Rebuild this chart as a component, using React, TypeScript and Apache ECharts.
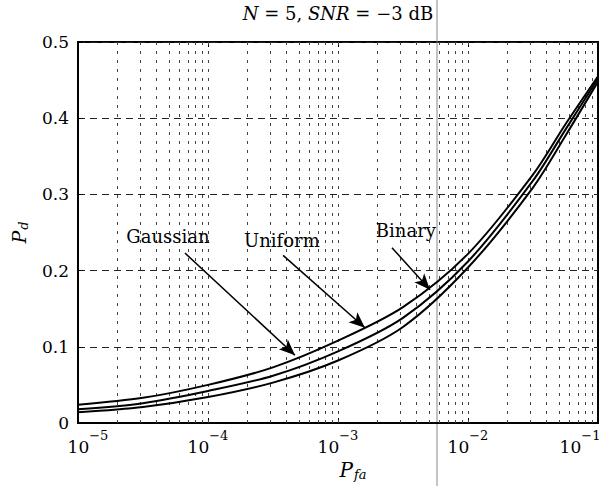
import React, { useEffect, useRef } from 'react';
import * as echarts from 'echarts';

// Data
const pfa = [1e-5, 3.16e-5, 1e-4, 3.16e-4, 1e-3, 3.16e-3, 1e-2, 3.16e-2, 5.62e-2, 1e-1];
const pdTop = [0.024, 0.033, 0.05, 0.073, 0.108, 0.152, 0.222, 0.326, 0.392, 0.455];
const pdMid = [0.018, 0.026, 0.042, 0.062, 0.094, 0.138, 0.212, 0.318, 0.385, 0.452];
const pdBot = [0.014, 0.021, 0.034, 0.053, 0.082, 0.126, 0.204, 0.309, 0.377, 0.448];

const decades = [1e-5, 1e-4, 1e-3, 1e-2, 1e-1];
const minorMultipliers = [2, 3, 4, 5, 6, 7, 8, 9];

const yTicks = [0, 0.1, 0.2, 0.3, 0.4, 0.5];

// annotations: label text, label position, arrow start, arrow end (data coords)
const annNames = ['Gaussian', 'Uniform', 'Binary'];
const annLabelPos = [[4.92e-5, 0.245], [3.7e-4, 0.24], [3.33e-3, 0.253]];
const annStart = [[6.65e-5, 0.223], [3.78e-4, 0.22], [2.6e-3, 0.23]];
const annEnd = [[4.67e-4, 0.089], [1.61e-3, 0.125], [5.1e-3, 0.175]];

const FONT = 'DejaVu Serif';

export default function App() {
  const ref = useRef<HTMLDivElement>(null);
  useEffect(() => {
    if (!ref.current) return;
    const chart = echarts.init(ref.current, undefined, { renderer: 'svg' });
    const mk = (ys: number[]) => pfa.map((x, i) => [x, ys[i]]);

    const verticalLines: any[] = [];
    decades.forEach((d, di) => {
      if (di > 0 && di < decades.length - 1) verticalLines.push({ xAxis: d });
      if (di < decades.length - 1) minorMultipliers.forEach((m) => verticalLines.push({ xAxis: m * d }));
    });

    const curveStyle = { color: '#000', width: 2 };
    const option: any = {
      animation: false,
      title: {
        text: '{i|N} = 5, {i|SNR} = −3 dB',
        left: 338,
        top: 4,
        textAlign: 'center',
        padding: 0,
        textStyle: {
          fontFamily: FONT,
          fontSize: 18,
          fontWeight: 'normal',
          color: '#000',
          rich: { i: { fontFamily: FONT, fontSize: 18, fontStyle: 'italic', color: '#000' } },
        },
      },
      grid: {
        left: 78,
        right: 4,
        top: 42,
        bottom: 63,
        show: true,
        borderColor: '#000',
        borderWidth: 2,
        backgroundColor: 'transparent',
        outerBoundsMode: 'none',
        containLabel: false,
      },
      xAxis: [
        {
          type: 'log',
          logBase: 10,
          min: 1e-5,
          max: 1e-1,
          name: '{i|P}{s|fa}',
          nameLocation: 'middle',
          nameGap: 35,
          nameTextStyle: {
            rich: {
              i: { fontFamily: FONT, fontSize: 20, fontStyle: 'italic', color: '#000', padding: [0, 0, 0, 30] },
              s: { fontFamily: FONT, fontSize: 13, fontStyle: 'italic', color: '#000', verticalAlign: 'bottom', padding: [10, 0, 0, 1] },
            },
          },
          axisLine: { show: true, lineStyle: { color: '#000', width: 2 } },
          axisTick: { show: true, inside: true, length: 5, lineStyle: { color: '#000' } },
          splitLine: { show: false },
          axisLabel: {
            margin: 6,
            formatter: (v: number) => {
              const e = Math.round(Math.log10(v));
              const core = '{b|10}{e|' + (e < 0 ? '−' : '') + Math.abs(e) + '}';
              if (e === -5) return '{pl|}' + core;
              if (e === -1) return core + '{pr|}';
              return core;
            },
            rich: {
              b: { fontFamily: FONT, fontSize: 17, color: '#000', lineHeight: 26, verticalAlign: 'bottom' },
              e: { fontFamily: FONT, fontSize: 13, color: '#000', lineHeight: 14, verticalAlign: 'top' },
              pl: { width: 20, height: 1 },
              pr: { width: 36, height: 1 },
            },
          },
        },
        {
          type: 'log',
          logBase: 10,
          min: 1e-5,
          max: 1e-1,
          position: 'top',
          axisLine: { show: false },
          axisTick: { show: true, inside: true, length: 5, lineStyle: { color: '#000' } },
          axisLabel: { show: false },
          splitLine: { show: false },
        },
      ],
      yAxis: {
        type: 'value',
        min: 0,
        max: 0.5,
        interval: 0.1,
        name: '{i|P}{s|d}',
        nameLocation: 'middle',
        nameGap: 48,
        nameRotate: 90,
        nameTextStyle: {
          rich: {
            i: { fontFamily: FONT, fontSize: 19, fontStyle: 'italic', color: '#000' },
            s: { fontFamily: FONT, fontSize: 13, fontStyle: 'italic', color: '#000', verticalAlign: 'bottom', padding: [10, 0, 0, 1] },
          },
        },
        axisLine: { show: true, lineStyle: { color: '#000', width: 2 } },
        axisTick: { show: true, inside: true, length: 5, lineStyle: { color: '#000' } },
        axisLabel: {
          margin: 9,
          fontFamily: FONT,
          fontSize: 17,
          color: '#000',
          formatter: (v: number) => (yTicks.indexOf(Math.round(v * 10) / 10) >= 0 ? String(Math.round(v * 10) / 10) : ''),
        },
        splitLine: { show: true, lineStyle: { color: '#222', width: 1, type: [7, 5] } },
      },
      series: [
        {
          name: 'Top',
          type: 'line',
          data: mk(pdTop),
          smooth: 0.3,
          showSymbol: false,
          symbol: 'none',
          lineStyle: curveStyle,
          z: 5,
          markLine: {
            silent: true,
            precision: 10,
            symbol: ['none', 'arrow'],
            symbolSize: [10, 16],
            label: { show: false },
            lineStyle: { color: '#000', width: 1.5, type: 'solid' },
            data: annStart.map((s, i) => [{ coord: s }, { coord: annEnd[i] }]),
          },
          markPoint: {
            silent: true,
            symbol: 'rect',
            symbolSize: 1,
            itemStyle: { color: 'rgba(0,0,0,0)' },
            label: { show: true, position: 'inside', formatter: '{b}', fontFamily: FONT, fontSize: 18, color: '#000' },
            data: annNames.map((n, i) => ({ name: n, coord: annLabelPos[i], value: 0 })),
          },
        },
        {
          name: 'Mid',
          type: 'line',
          data: mk(pdMid),
          smooth: 0.3,
          showSymbol: false,
          symbol: 'none',
          lineStyle: curveStyle,
          z: 5,
        },
        {
          name: 'Bot',
          type: 'line',
          data: mk(pdBot),
          smooth: 0.3,
          showSymbol: false,
          symbol: 'none',
          lineStyle: curveStyle,
          z: 5,
          markLine: {
            silent: true,
            precision: 10,
            symbol: ['none', 'none'],
            label: { show: false },
            lineStyle: { color: '#444', width: 1, type: [3, 6] },
            data: verticalLines,
            z: 1,
          },
        },
      ],
      graphic: [
        {
          type: 'line',
          shape: { x1: 437, y1: 0, x2: 437, y2: 486 },
          style: { stroke: '#888', lineWidth: 1 },
          silent: true,
        },
      ],
    };
    chart.setOption(option);
    return () => chart.dispose();
  }, []);
  return (
    <div
      ref={ref}
      style={{ position: 'fixed', left: 0, top: 0, width: 602, height: 486, background: '#fff' }}
    />
  );
}
